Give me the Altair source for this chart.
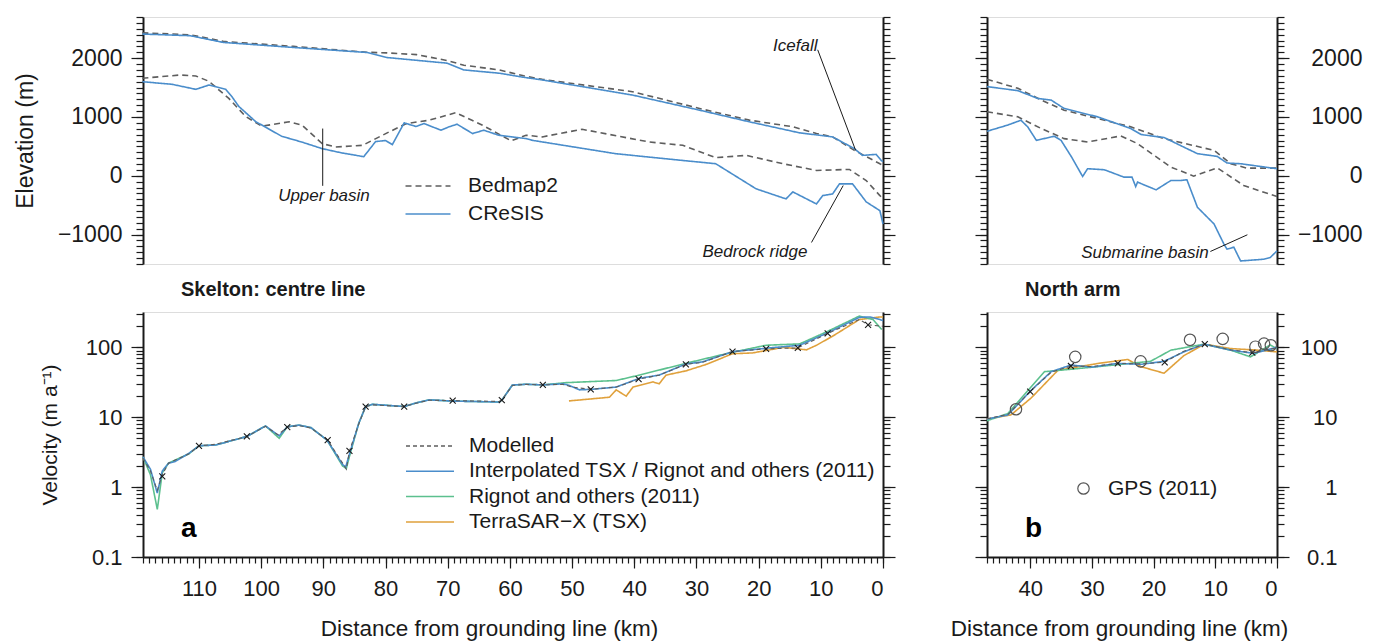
import altair as alt
import pandas as pd

FONT = "Liberation Sans"
INK = "#1a1a1a"
BLUE = "#4a8dcb"
GREEN = "#5cc08e"
ORANGE = "#e0a13c"
DGREY = "#5e5e5e"

# ---------------- Skelton centre line : elevation (km, m) ----------------
cl_surf_cresis_km = [119.1, 111.4, 106.1, 94.8, 83.0, 79.8, 70.1, 67.4, 61.7, 57.8, 54.8, 40.3, 29.5, 21.5, 13.4, 10.2, 8.1, 4.6, 3.3, 1.1, 0.3, 0.0]
cl_surf_cresis_m = [2410, 2382, 2268, 2182, 2097, 2011, 1915, 1800, 1744, 1675, 1630, 1373, 1116, 918, 730, 689, 661, 462, 347, 364, 262, 240]
cl_surf_bedmap_km = [119.1, 111.4, 106.1, 94.8, 83.0, 79.8, 75.0, 70.1, 67.4, 61.7, 57.8, 54.8, 40.3, 29.5, 21.5, 14.4, 10.7, 8.1, 4.6, 0.5, 0.0]
cl_surf_bedmap_m = [2430, 2398, 2285, 2200, 2100, 2090, 2060, 1960, 1880, 1800, 1700, 1640, 1430, 1145, 946, 832, 718, 661, 432, 205, 180]
cl_bed_cresis_km = [119.1, 114.3, 110.5, 108.4, 105.7, 104.7, 103.6, 100.9, 96.7, 93.5, 90.2, 87.0, 83.5, 81.6, 80.0, 78.9, 77.0, 75.1, 73.8, 71.1, 69.8, 68.5, 66.0, 64.2, 61.8, 57.4, 56.4, 43.0, 35.0, 26.9, 24.3, 20.4, 15.6, 14.5, 10.7, 9.7, 8.1, 7.0, 4.9, 2.7, 0.5, 0.0]
cl_bed_cresis_m = [1600, 1555, 1470, 1543, 1470, 1345, 1180, 923, 672, 575, 462, 388, 325, 581, 600, 530, 900, 838, 889, 775, 832, 877, 718, 775, 690, 632, 603, 376, 290, 205, 34, -222, -393, -274, -479, -337, -308, -137, -137, -444, -593, -820]
cl_bed_bedmap_km = [119.1, 113.0, 110.5, 108.4, 105.2, 102.5, 99.9, 95.5, 93.4, 90.2, 88.0, 83.7, 79.4, 76.6, 73.0, 68.7, 64.4, 59.8, 57.4, 54.8, 48.4, 37.6, 32.2, 26.9, 22.0, 16.1, 10.7, 5.4, 2.7, 0.5, 0.0]
cl_bed_bedmap_m = [1658, 1714, 1697, 1607, 1316, 1008, 843, 918, 860, 547, 490, 518, 747, 889, 945, 1072, 860, 595, 690, 661, 791, 575, 518, 308, 347, 205, 91, 108, -80, -337, -400]

# ---------------- North arm : elevation ----------------
na_surf_cresis_km = [47.0, 42.0, 38.8, 36.6, 34.5, 29.1, 23.7, 22.0, 18.3, 12.9, 9.7, 8.1, 5.9, 0.0]
na_surf_cresis_m = [1516, 1448, 1316, 1287, 1145, 1003, 803, 701, 650, 376, 330, 217, 205, 120]
na_surf_bedmap_km = [47.0, 42.0, 38.2, 34.5, 23.7, 18.3, 10.2, 7.5, 4.9, 0.0]
na_surf_bedmap_m = [1641, 1487, 1287, 1116, 832, 632, 432, 205, 131, 131]
na_bed_cresis_km = [47.0, 43.7, 41.5, 40.4, 39.0, 36.1, 35.0, 33.3, 31.5, 30.7, 28.0, 24.8, 23.5, 22.9, 22.6, 19.6, 17.2, 15.6, 14.6, 12.9, 10.2, 8.6, 8.1, 7.0, 5.9, 4.3, 2.2, 1.1, 0.0]
na_bed_cresis_m = [757, 860, 945, 832, 603, 672, 603, 320, -12, 120, 103, -23, -23, -183, -108, -239, -80, -80, -68, -535, -820, -1162, -1248, -1214, -1448, -1436, -1419, -1390, -1277]
na_bed_bedmap_km = [47.0, 42.0, 38.2, 34.5, 30.7, 25.3, 22.6, 17.2, 13.5, 9.7, 5.4, 0.0]
na_bed_bedmap_m = [1088, 1003, 803, 632, 575, 678, 547, 148, -6, 136, -165, -353]

# ---------------- Skelton centre line : velocity (km, m/a) ----------------
cl_interp_km = [119.0, 117.8, 116.7, 115.9, 114.9, 113.8, 111.6, 110.0, 107.3, 102.3, 99.3, 97.1, 95.8, 93.9, 92.0, 89.4, 86.9, 86.4, 85.6, 84.3, 83.2, 82.1, 78.4, 77.0, 75.1, 73.0, 69.2, 61.7, 61.2, 59.6, 57.4, 54.7, 51.5, 50.5, 48.8, 47.0, 42.9, 39.2, 36.0, 31.7, 29.0, 24.2, 18.8, 13.4, 9.1, 3.8, 2.1, 0.5, 0.0]
cl_interp_v = [2.7, 1.8, 0.82, 1.7, 2.2, 2.33, 3.05, 3.9, 4.0, 5.3, 7.5, 5.4, 7.3, 7.7, 7.1, 4.7, 2.1, 1.95, 3.4, 8.2, 14.2, 15.3, 14.5, 14.2, 16.0, 17.7, 17.0, 16.5, 18.0, 28.9, 29.6, 29.0, 30.0, 28.6, 24.6, 25.0, 27.0, 36.0, 40.0, 57.8, 62.0, 86.6, 97.0, 107.0, 158.0, 268.0, 272.0, 250.0, 240.0]
cl_model_km = [119.0, 117.8, 116.7, 115.9, 114.9, 111.6, 110.0, 107.3, 102.3, 99.3, 97.3, 95.8, 93.9, 92.0, 89.3, 86.9, 86.3, 85.8, 84.3, 83.2, 82.1, 78.4, 77.0, 75.1, 73.0, 69.2, 61.7, 61.3, 59.6, 57.4, 54.7, 51.5, 50.0, 47.0, 42.9, 39.3, 36.0, 31.7, 29.0, 24.2, 18.8, 13.7, 8.9, 3.8, 2.4, 0.0]
cl_model_v = [2.6, 1.7, 0.9, 1.5, 2.2, 3.0, 3.9, 4.1, 5.3, 7.4, 5.6, 7.2, 7.6, 7.0, 4.7, 2.2, 1.8, 3.3, 8.0, 14.2, 15.0, 14.4, 14.2, 15.8, 17.5, 17.3, 16.8, 17.6, 28.5, 29.5, 29.0, 29.5, 27.0, 25.0, 27.0, 35.0, 40.0, 57.0, 61.0, 87.0, 95.0, 98.0, 158.0, 250.0, 210.0, 200.0]
cl_mark_km = [115.9, 110.0, 102.3, 95.8, 89.3, 85.8, 83.2, 77.0, 69.2, 61.3, 54.7, 47.0, 39.3, 31.7, 24.2, 18.8, 13.7, 8.9, 2.4]
cl_mark_v = [1.42, 3.9, 5.3, 7.2, 4.7, 3.3, 14.2, 14.2, 17.3, 17.6, 29.0, 25.0, 35.0, 57.0, 87.0, 95.0, 98.0, 158.0, 210.0]
cl_rignot_km = [119.0, 117.8, 116.7, 115.9, 114.9, 111.6, 110.0, 107.3, 102.3, 99.3, 97.1, 95.8, 93.9, 92.0, 89.4, 86.9, 86.3, 85.6, 84.3, 83.2, 82.1, 78.4, 77.0, 75.1, 73.0, 69.2, 61.7, 61.2, 59.6, 57.4, 54.7, 51.0, 42.9, 39.2, 34.9, 29.5, 24.2, 18.8, 13.4, 9.1, 3.8, 1.6, 0.2]
cl_rignot_v = [2.7, 1.5, 0.48, 1.6, 2.2, 3.0, 3.9, 4.0, 5.3, 7.5, 5.0, 7.3, 7.7, 7.1, 4.7, 2.0, 1.85, 3.2, 8.2, 14.2, 15.3, 14.5, 14.2, 16.0, 17.7, 17.0, 16.5, 18.0, 28.9, 29.6, 29.0, 31.2, 33.5, 40.0, 50.0, 65.8, 85.0, 107.0, 112.0, 166.0, 280.0, 250.0, 180.0]
cl_tsx_km = [50.5, 44.0, 42.9, 41.3, 40.2, 37.0, 36.0, 34.9, 31.7, 28.4, 24.2, 21.0, 16.0, 12.3, 10.7, 8.0, 3.8, 0.5, 0.0]
cl_tsx_v = [17.1, 19.3, 24.6, 20.0, 27.0, 32.0, 30.0, 40.0, 46.0, 57.0, 81.0, 83.0, 100.0, 92.0, 107.0, 146.0, 250.0, 272.0, 272.0]

# ---------------- North arm : velocity ----------------
na_interp_km = [47.0, 43.6, 39.8, 36.6, 33.4, 30.0, 25.8, 22.1, 18.3, 15.1, 11.8, 7.5, 3.8, 0.0]
na_interp_v = [9.4, 10.8, 24.5, 44.8, 55.8, 52.0, 59.0, 57.0, 63.0, 86.0, 111.0, 91.0, 82.0, 100.0]
na_rignot_km = [47.0, 43.6, 40.3, 37.7, 32.9, 26.4, 20.5, 17.2, 11.8, 7.5, 4.3, 1.1, 0.0]
na_rignot_v = [8.9, 11.3, 24.5, 44.8, 49.0, 55.8, 63.0, 91.0, 111.0, 91.0, 73.0, 108.0, 96.0]
na_tsx_km = [47.0, 43.1, 39.8, 35.5, 28.9, 24.2, 22.1, 18.3, 15.1, 14.0, 11.8, 7.5, 3.2, 0.0]
na_tsx_v = [9.4, 10.8, 19.0, 47.0, 59.0, 67.0, 53.0, 42.6, 76.0, 86.0, 111.0, 96.0, 91.0, 86.0]
na_model_km = [47.0, 43.6, 40.0, 36.6, 33.4, 30.0, 25.8, 22.1, 18.2, 15.1, 11.7, 7.5, 4.0, 0.0]
na_model_v = [9.5, 11.0, 23.3, 44.0, 54.0, 53.0, 59.0, 58.0, 61.0, 88.0, 111.0, 92.0, 84.0, 98.0]
na_mark_km = [40.0, 33.4, 25.8, 18.2, 11.7, 4.0]
na_mark_v = [23.3, 54.0, 59.0, 61.0, 111.0, 84.0]
gps_km = [42.3, 32.7, 22.1, 14.1, 8.8, 3.5, 2.1, 1.0]
gps_v = [13.0, 73.0, 63.0, 128.0, 132.0, 102.0, 113.0, 107.0]

# ---------------- annotations ----------------
cl_note_text = ["Upper basin", "Icefall", "Bedrock ridge"]
cl_note_km = [89.9, 14.1, 20.6]
cl_note_m = [-350, 2205, -1299]
cl_lead_km1 = [90.1, 10.5, 11.5]
cl_lead_m1 = [803, 2142, -1134]
cl_lead_km2 = [90.1, 4.4, 6.4]
cl_lead_m2 = [-171, 432, -166]
na_note_text = ["Submarine basin"]
na_note_km = [21.4]
na_note_m = [-1316]
na_lead_km1 = [10.8]
na_lead_m1 = [-1287]
na_lead_km2 = [4.8]
na_lead_m2 = [-1003]

# ---------------- tick values ----------------
elev_major = [-1000, 0, 1000, 2000]
elev_minor = list(range(-1500, 2701, 100))
vel_major = [0.1, 1, 10, 100]
vel_minor = [m * d for d in (0.1, 1, 10, 100) for m in range(1, 10) if m * d <= 320]
cl_x_major = list(range(0, 111, 10))
cl_x_minor = list(range(0, 120))
na_x_major = list(range(0, 41, 10))
na_x_minor = list(range(0, 48))

ELEV_SERIES = ["Bedmap2", "CReSIS"]
VEL_SERIES = ["Modelled", "Interpolated TSX / Rignot and others (2011)",
              "Rignot and others (2011)", "TerraSAR\u2212X (TSX)"]


def elev_df(parts):
    rows = []
    for series, part, kms, ms in parts:
        for k, m in zip(kms, ms):
            rows.append({"km": k, "elev": m, "series": series, "part": part})
    return pd.DataFrame(rows)


def vel_df(series, kms, vs):
    return pd.DataFrame({"km": kms, "v": vs, "series": series})


def axis(orient, values, size, labels=False, domain=False, **kw):
    base = dict(orient=orient, values=values, tickSize=size, labels=labels, domain=domain,
                grid=False, ticks=True, tickColor=INK, tickWidth=1.2, domainColor=INK,
                domainWidth=2, labelFont=FONT, labelColor=INK, titleFont=FONT,
                titleColor=INK, titleFontWeight="normal", title=None)
    base.update(kw)
    return alt.Axis(**base)


def ghost(xs, ys, xdom, ydom, xax, yax):
    d = pd.DataFrame({"gx": xdom, "gy": ydom})
    return alt.Chart(d).mark_point(opacity=0).encode(
        x=alt.X("gx:Q", scale=xs, axis=xax),
        y=alt.Y("gy:Q", scale=ys, axis=yax))


def elev_panel(df, xs, xdom, width, notes, leads, left_labels, legend):
    ys = alt.Scale(domain=[-1500, 2700], nice=False, zero=False)
    col = alt.Color("series:N", scale=alt.Scale(domain=ELEV_SERIES, range=[DGREY, BLUE]),
                    legend=legend)
    dash = alt.StrokeDash("series:N", scale=alt.Scale(domain=ELEV_SERIES, range=[[6, 4], [1, 0]]),
                          legend=legend)
    lines = alt.Chart(df).mark_line(strokeWidth=1.6).encode(
        x=alt.X("km:Q", scale=xs, axis=None),
        y=alt.Y("elev:Q", scale=ys, axis=None),
        color=col, strokeDash=dash, detail="part:N")
    rules = alt.Chart(leads).mark_rule(color=INK, strokeWidth=1).encode(
        x=alt.X("k1:Q", scale=xs, axis=None), x2="k2:Q",
        y=alt.Y("m1:Q", scale=ys, axis=None), y2="m2:Q")
    texts = alt.Chart(notes).mark_text(font=FONT, fontStyle="italic", fontSize=17,
                                       color=INK).encode(
        x=alt.X("km:Q", scale=xs, axis=None),
        y=alt.Y("m:Q", scale=ys, axis=None), text="t:N")
    data = alt.layer(lines, rules, texts)
    ydom = [-1500, 2700]
    if left_labels:
        lmaj = axis("left", elev_major, 12, labels=True, domain=True, format="d",
                    labelFontSize=23, labelPadding=9, title="Elevation (m)",
                    titleFontSize=23, titlePadding=20)
        rmaj = axis("right", elev_major, 12, domain=True)
    else:
        lmaj = axis("left", elev_major, 12, domain=True)
        rmaj = axis("right", elev_major, 12, labels=True, domain=True, format="d",
                    labelFontSize=23, labelAlign="right", labelPadding=73)
    return alt.layer(
        data,
        ghost(xs, ys, xdom, ydom, None, lmaj),
        ghost(xs, ys, xdom, ydom, None, axis("left", elev_minor, 7)),
        ghost(xs, ys, xdom, ydom, None, rmaj),
        ghost(xs, ys, xdom, ydom, None, axis("right", elev_minor, 7)),
    ).resolve_axis(x="independent", y="independent").properties(width=width, height=247)


def vel_panel(obs, model, marks, xs, xdom, width, xmaj, xmin, left_labels, legend,
              panel_letter, title, title_x, gps=None):
    ys = alt.Scale(type="log", domain=[0.1, 320], nice=False)
    col_scale = alt.Scale(domain=VEL_SERIES, range=[DGREY, BLUE, GREEN, ORANGE])
    dash_scale = alt.Scale(domain=VEL_SERIES, range=[[4, 3], [1, 0], [1, 0], [1, 0]])
    layers = []
    for s in [VEL_SERIES[3], VEL_SERIES[2], VEL_SERIES[1]]:
        layers.append(alt.Chart(obs[obs.series == s]).mark_line(strokeWidth=1.6).encode(
            x=alt.X("km:Q", scale=xs, axis=None),
            y=alt.Y("v:Q", scale=ys, axis=None),
            color=alt.Color("series:N", scale=col_scale, legend=legend),
            strokeDash=alt.StrokeDash("series:N", scale=dash_scale, legend=legend)))
    layers.append(alt.Chart(model).mark_line(strokeWidth=1.1).encode(
        x=alt.X("km:Q", scale=xs, axis=None),
        y=alt.Y("v:Q", scale=ys, axis=None),
        color=alt.Color("series:N", scale=col_scale, legend=legend),
        strokeDash=alt.StrokeDash("series:N", scale=dash_scale, legend=legend)))
    layers.append(alt.Chart(marks).mark_point(shape="M-1,-1L1,1M-1,1L1,-1", filled=False,
                                              size=36, strokeWidth=1.1, color=INK,
                                              opacity=1).encode(
        x=alt.X("km:Q", scale=xs, axis=None),
        y=alt.Y("v:Q", scale=ys, axis=None)))
    if gps is not None:
        layers.append(alt.Chart(gps).mark_point(filled=False, size=130, strokeWidth=1.2,
                                                color="#555555", opacity=1).encode(
            x=alt.X("km:Q", scale=xs, axis=None),
            y=alt.Y("v:Q", scale=ys, axis=None),
            shape=alt.Shape("src:N", scale=alt.Scale(domain=["GPS (2011)"], range=["circle"]),
                            legend=alt.Legend(title=None, orient="none", legendX=86, legendY=166,
                                              symbolSize=130, symbolStrokeColor="#555555",
                                              symbolStrokeWidth=1.2,
                                              symbolFillColor="transparent",
                                              labelFont=FONT, labelFontSize=21,
                                              labelColor=INK, labelOffset=14, padding=0,
                                              labelLimit=600))))
    letter = alt.Chart(pd.DataFrame({"t": [panel_letter]})).mark_text(
        font=FONT, fontSize=28, fontWeight="bold", color="#000000", align="left",
        baseline="alphabetic").encode(x=alt.value(38), y=alt.value(225), text="t:N")
    layers.append(letter)
    data = alt.layer(*layers)
    ydom = [0.1, 320]
    if left_labels:
        lmaj = axis("left", vel_major, 12, labels=True, domain=True, format="~g",
                    labelFontSize=22, labelPadding=9, title="Velocity (m a\u207b\u00b9)",
                    titleFontSize=21, titlePadding=25)
        rmaj = axis("right", vel_major, 12, domain=True)
    else:
        lmaj = axis("left", vel_major, 12, domain=True)
        rmaj = axis("right", vel_major, 12, labels=True, domain=True, format="~g",
                    labelFontSize=22, labelAlign="right", labelPadding=48)
    bmaj = axis("bottom", xmaj, 11, labels=True, domain=True, format="d", labelFontSize=22,
                labelPadding=10, title="Distance from grounding line (km)",
                titleFontSize=22.5, titlePadding=18, titleX=title_x)
    bmin = axis("bottom", xmin, 6)
    return alt.layer(
        data,
        ghost(xs, ys, xdom, ydom, bmaj, lmaj),
        ghost(xs, ys, xdom, ydom, bmin, axis("left", vel_minor, 7)),
        ghost(xs, ys, xdom, ydom, None, rmaj),
        ghost(xs, ys, xdom, ydom, None, axis("right", vel_minor, 7)),
    ).resolve_axis(x="independent", y="independent").properties(
        width=width, height=245,
        title=alt.TitleParams(title, anchor="start", frame="group", dx=38, offset=-7,
                              fontSize=20, font=FONT, fontWeight="bold", color=INK,
                              baseline="alphabetic"))


xs_cl = alt.Scale(domain=[0, 119], reverse=True, nice=False, zero=False)
xs_na = alt.Scale(domain=[0, 47], reverse=True, nice=False, zero=False)

cl_elev = elev_df([
    ("Bedmap2", "surface", cl_surf_bedmap_km, cl_surf_bedmap_m),
    ("Bedmap2", "bed", cl_bed_bedmap_km, cl_bed_bedmap_m),
    ("CReSIS", "surface", cl_surf_cresis_km, cl_surf_cresis_m),
    ("CReSIS", "bed", cl_bed_cresis_km, cl_bed_cresis_m),
])
na_elev = elev_df([
    ("Bedmap2", "surface", na_surf_bedmap_km, na_surf_bedmap_m),
    ("Bedmap2", "bed", na_bed_bedmap_km, na_bed_bedmap_m),
    ("CReSIS", "surface", na_surf_cresis_km, na_surf_cresis_m),
    ("CReSIS", "bed", na_bed_cresis_km, na_bed_cresis_m),
])
cl_notes = pd.DataFrame({"t": cl_note_text, "km": cl_note_km, "m": cl_note_m})
cl_leads = pd.DataFrame({"k1": cl_lead_km1, "m1": cl_lead_m1, "k2": cl_lead_km2, "m2": cl_lead_m2})
na_notes = pd.DataFrame({"t": na_note_text, "km": na_note_km, "m": na_note_m})
na_leads = pd.DataFrame({"k1": na_lead_km1, "m1": na_lead_m1, "k2": na_lead_km2, "m2": na_lead_m2})

elev_legend = alt.Legend(title=None, orient="none", legendX=273, legendY=157,
                         symbolType="M-2,0H2", symbolSize=506, symbolStrokeWidth=1.5,
                         labelFont=FONT, labelFontSize=21, labelColor=INK, labelOffset=28,
                         rowPadding=6, padding=0, labelLimit=600)
vel_legend = alt.Legend(title=None, orient="none", legendX=274, legendY=121,
                        symbolType="M-2,0H2", symbolSize=576, symbolStrokeWidth=1.5,
                        labelFont=FONT, labelFontSize=21, labelColor=INK, labelOffset=26,
                        rowPadding=2.3, padding=0, labelLimit=600)

cl_obs = pd.concat([
    vel_df(VEL_SERIES[1], cl_interp_km, cl_interp_v),
    vel_df(VEL_SERIES[2], cl_rignot_km, cl_rignot_v),
    vel_df(VEL_SERIES[3], cl_tsx_km, cl_tsx_v),
])
na_obs = pd.concat([
    vel_df(VEL_SERIES[1], na_interp_km, na_interp_v),
    vel_df(VEL_SERIES[2], na_rignot_km, na_rignot_v),
    vel_df(VEL_SERIES[3], na_tsx_km, na_tsx_v),
])
cl_model = vel_df(VEL_SERIES[0], cl_model_km, cl_model_v)
na_model = vel_df(VEL_SERIES[0], na_model_km, na_model_v)
cl_marks = pd.DataFrame({"km": cl_mark_km, "v": cl_mark_v})
na_marks = pd.DataFrame({"km": na_mark_km, "v": na_mark_v})
gps = pd.DataFrame({"km": gps_km, "v": gps_v, "src": "GPS (2011)"})

topL = elev_panel(cl_elev, xs_cl, [0, 119], 740, cl_notes, cl_leads, True, elev_legend)
topR = elev_panel(na_elev, xs_na, [0, 47], 290, na_notes, na_leads, False, None)
botL = vel_panel(cl_obs, cl_model, cl_marks, xs_cl, [0, 119], 740, cl_x_major, cl_x_minor,
                 True, vel_legend, "a", "Skelton:  centre line", 346)
botR = vel_panel(na_obs, na_model, na_marks, xs_na, [0, 47], 290, na_x_major, na_x_minor,
                 False, None, "b", "North arm", 132, gps=gps)

chart = alt.concat(topL, topR, botL, botR, columns=2, align="each",
                   spacing={"row": 11, "column": 52}).resolve_scale(
    color="independent", strokeDash="independent", shape="independent"
).configure_view(strokeWidth=0).configure(background="white")

chart.save("out.html", embed_options={"renderer": "svg", "actions": False})
